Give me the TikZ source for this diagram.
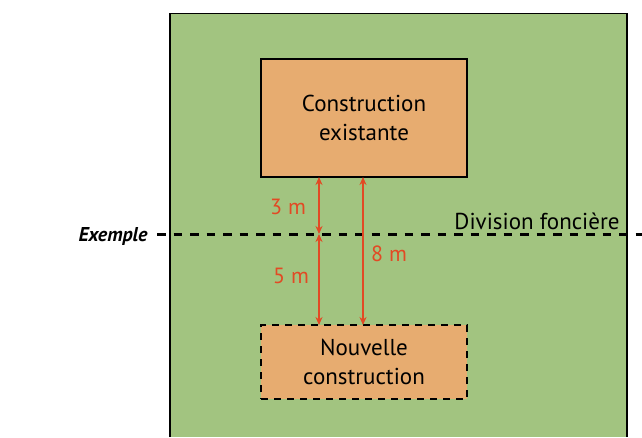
\documentclass[tikz,border=0pt]{standalone}
\usepackage{fontspec}
\setmainfont{PT Sans}
\usetikzlibrary{arrows.meta}

\definecolor{terrain}{RGB}{162,196,128}
\definecolor{bati}{RGB}{231,172,112}
\definecolor{cote}{RGB}{226,74,36}

\tikzset{
    batiment/.style={draw=black,fill=bati,align=center,line width=1.6pt,
        minimum width=206pt,font=\fontsize{23}{29}\selectfont},
    mesure/.style={cote,line width=1.5pt,{Stealth[length=8pt,width=7pt]}-{Stealth[length=8pt,width=7pt]}},
    etiquette/.style={text=cote,font=\fontsize{22}{24}\selectfont},
}

\begin{document}
\begin{tikzpicture}[x=1pt,y=-1pt]
            \useasboundingbox (0,0) rectangle (642,437);
            % parcelle
            \fill[terrain] (170,13.5) rectangle (627,437);
            \draw[line width=1.6pt] (170,437) |- (627,13.5) -- (627,437);
            % batiments
            \node[batiment,minimum height=118pt] (existant) at (364,118) {Construction\\existante};
            \node[batiment,minimum height=74pt,dashed,dash pattern=on 7pt off 6pt] (nouvelle) at (364,362) {Nouvelle\\construction};
            % division
            \coordinate (dg) at (157,234);
            \coordinate (dd) at (642,234);
            \draw[line width=3pt,dash pattern=on 8.5pt off 8pt] (dg) -- (dd);
            \node[font=\fontsize{23}{26}\selectfont,anchor=south] (division) at (537,233) {Division foncière};
            \node[font=\fontsize{20}{22}\selectfont\bfseries\itshape] (exemple) at (113,236) {Exemple};
            % cotes
            \coordinate (a1) at (319,177);
            \coordinate (a2) at (319,234);
            \coordinate (a3) at (319,325);
            \coordinate (b1) at (363,177);
            \coordinate (b2) at (363,325);
            \draw[mesure] (a1) -- (a2);
            \draw[mesure] (a2) -- (a3);
            \draw[mesure] (b1) -- (b2);
            \node[etiquette] (trois) at (288,207) {3 m};
            \node[etiquette] (cinq) at (291,276) {5 m};
            \node[etiquette] (huit) at (389,254) {8 m};
        \end{tikzpicture}
\end{document}
